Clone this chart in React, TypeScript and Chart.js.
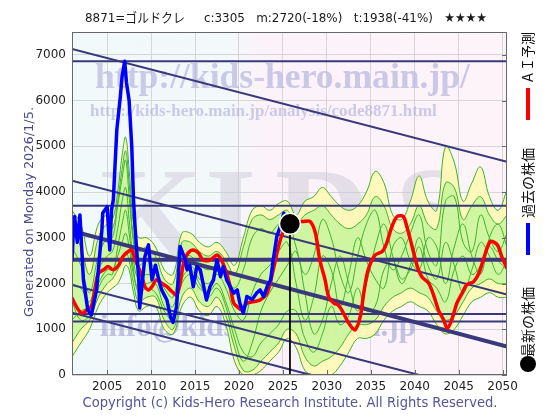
import React, { useEffect, useRef } from "react";
import { Chart, registerables } from "chart.js";

Chart.register(...registerables);

// ---------- text ----------
const titleText = "8871=ゴルドクレ     c:3305   m:2720(-18%)   t:1938(-41%)   ★★★★";
const generatedText = "Generated on Monday 2026/1/5.";
const copyrightText = "Copyright (c) Kids-Hero Research Institute. All Rights Reserved.";
const legendForecast = "ＡＩ予測";
const legendPast = "過去の株価";
const legendLatest = "最新の株価";
const watermarkUrl = "http://kids-hero.main.jp/";
const watermarkPage = "http://kids-hero.main.jp/analysis/code8871.html";
const watermarkMail = "info@kids-hero.main.jp";
const watermarkBig = ["K", "I", "D", "S"];

// ---------- axes ----------
const xTicks = [2005, 2010, 2015, 2020, 2025, 2030, 2035, 2040, 2045, 2050];
const yTicks = [0, 1000, 2000, 3000, 4000, 5000, 6000, 7000];
const xMin = 2001;
const xMax = 2050.5;
const yMax = 7500;

// ---------- past price (blue) ----------
const priceYears = [2001.0, 2001.2, 2001.3, 2001.6, 2001.9, 2002.3, 2002.8, 2003.2, 2003.8, 2004.4, 2004.5, 2005.0, 2005.3, 2005.5, 2005.7, 2006.1, 2006.5, 2006.7, 2007.0, 2007.2, 2007.5, 2007.8, 2008.0, 2008.2, 2008.6, 2008.7, 2009.3, 2009.7, 2010.1, 2010.5, 2010.8, 2011.2, 2011.8, 2012.2, 2012.5, 2012.9, 2013.3, 2013.9, 2014.1, 2014.4, 2014.8, 2015.2, 2015.6, 2016.3, 2016.7, 2017.1, 2017.5, 2017.9, 2018.2, 2018.6, 2019.0, 2019.4, 2019.8, 2020.1, 2020.5, 2020.9, 2021.5, 2022.0, 2022.4, 2022.8, 2023.2, 2023.6, 2023.9, 2024.3, 2024.7, 2025.1, 2025.8];
const priceValues = [2516, 3300, 3464, 2900, 3500, 2080, 1420, 1310, 1860, 3170, 3540, 3680, 2735, 3610, 3830, 5360, 6090, 6530, 6860, 6390, 6000, 5000, 3830, 3170, 2080, 1465, 2590, 2845, 2080, 2400, 2150, 1860, 1640, 1275, 1150, 1495, 2810, 2515, 2300, 2400, 1930, 2370, 2300, 1640, 1930, 2080, 2515, 2150, 2370, 2080, 1930, 1790, 1860, 1570, 1350, 1715, 1650, 1790, 1860, 1715, 1930, 2080, 2515, 3025, 3245, 3540, 3305];

// ---------- AI forecast (red) ----------
const forecastYears = [2001.0, 2001.5, 2002.1, 2002.7, 2003.2, 2003.6, 2004.0, 2004.6, 2005.1, 2005.7, 2006.3, 2006.8, 2007.4, 2007.8, 2008.2, 2008.6, 2008.9, 2009.3, 2009.7, 2010.1, 2010.6, 2011.2, 2011.8, 2012.4, 2012.9, 2013.3, 2013.7, 2014.2, 2014.8, 2015.4, 2015.9, 2016.7, 2017.5, 2018.0, 2018.6, 2019.0, 2019.4, 2019.8, 2020.3, 2020.9, 2021.7, 2022.4, 2023.2, 2023.9, 2024.5, 2025.1, 2025.8, 2027.3, 2028.1, 2028.7, 2029.2, 2029.8, 2030.2, 2030.8, 2031.3, 2031.9, 2032.5, 2033.2, 2033.8, 2034.2, 2034.7, 2035.5, 2036.3, 2036.8, 2037.4, 2038.0, 2038.7, 2039.1, 2039.7, 2040.3, 2040.8, 2041.6, 2042.2, 2042.7, 2043.3, 2043.7, 2044.2, 2044.8, 2045.4, 2045.9, 2046.7, 2047.3, 2047.8, 2048.6, 2049.4, 2049.9, 2050.5];
const forecastValues = [1680, 1495, 1350, 1420, 1495, 1860, 2225, 2300, 2370, 2300, 2400, 2590, 2700, 2735, 2515, 2335, 2190, 1930, 1860, 1930, 2080, 2005, 1930, 1820, 1750, 2005, 2445, 2665, 2735, 2665, 2515, 2515, 2625, 2515, 2225, 1930, 1570, 1495, 1420, 1570, 1605, 1640, 1790, 2300, 2810, 3170, 3330, 3355, 3355, 3100, 2515, 2080, 1715, 1570, 1530, 1350, 1130, 985, 1275, 1790, 2300, 2625, 2700, 2880, 3245, 3465, 3465, 3245, 2810, 2370, 2150, 2005, 1715, 1420, 1200, 1020, 1200, 1570, 1790, 1970, 2040, 2225, 2515, 2920, 2845, 2590, 2335];

// ---------- latest price ----------
const latestYear = 2025.8;
const latestValue = 3305;

// ---------- scenario bands (green / yellow) ----------
const bandYears = [2001, 2002, 2003, 2004, 2005, 2005.6, 2006.2, 2006.7, 2007.1, 2007.5, 2008, 2008.6, 2009.5, 2010.5, 2011.5, 2012.5, 2013.5, 2014.5, 2015.5, 2016.5, 2017.5, 2018.5, 2019.5, 2020.5, 2021.5, 2022.5, 2023.5, 2024.5, 2025.5, 2026.5, 2027.5, 2028.5, 2029.5, 2030.5, 2031.5, 2032.5, 2033.5, 2034.5, 2035.5, 2036.5, 2037.5, 2038.5, 2039.5, 2040.5, 2041.5, 2042.5, 2043.5, 2044.5, 2045.5, 2046.5, 2047.5, 2048.5, 2049.5, 2050.5];
const outerHi = [3600, 3300, 2600, 3300, 3500, 3400, 4000, 4800, 5200, 4500, 3300, 3000, 3000, 2800, 2300, 2200, 3100, 3100, 2900, 2800, 2900, 2700, 2400, 3000, 3600, 3700, 3600, 3750, 3800, 3500, 3800, 3900, 4100, 3900, 3700, 3600, 3700, 4000, 4450, 4200, 3500, 3400, 3800, 4350, 3800, 3600, 5000, 4650, 3800, 4200, 4550, 3900, 3600, 4050];
const outerLo = [400, 700, 1000, 1500, 1800, 1900, 2000, 2200, 2400, 2300, 1800, 1400, 1500, 1500, 1000, 900, 1500, 1700, 1400, 1300, 1500, 1100, 300, 0, 0, 100, 300, 500, 800, 600, 100, 0, 0, 0, 200, 500, 800, 800, 900, 1200, 1400, 1500, 1600, 1500, 1400, 1100, 900, 1000, 1300, 1600, 1700, 1800, 1700, 1700];
const innerHi = [3200, 2800, 2200, 3000, 3300, 3200, 3800, 4500, 4900, 4200, 3000, 2700, 2800, 2600, 2100, 2000, 2900, 2900, 2700, 2600, 2700, 2500, 2200, 2800, 3400, 3500, 3400, 3500, 3600, 3300, 3500, 3600, 3700, 3500, 3300, 3200, 3300, 3500, 3900, 3700, 3200, 3100, 3300, 3700, 3300, 3200, 4200, 4100, 3400, 3700, 3900, 3500, 3300, 3500];
const innerLo = [700, 1000, 1200, 1700, 2000, 2100, 2300, 2500, 2700, 2500, 2000, 1600, 1700, 1700, 1200, 1000, 1700, 1900, 1600, 1500, 1700, 1300, 600, 100, 100, 300, 500, 700, 1000, 900, 400, 200, 300, 400, 600, 900, 1100, 1100, 1200, 1500, 1700, 1800, 1900, 1800, 1700, 1400, 1200, 1300, 1600, 1900, 2000, 2100, 2000, 2000];
const scenA = [2800, 2400, 1800, 2600, 3000, 3000, 3700, 4300, 4700, 3900, 2900, 2400, 2500, 2300, 1900, 1700, 2600, 2600, 2400, 2300, 2400, 2200, 1900, 2300, 3000, 3200, 3100, 3300, 3400, 2800, 2200, 2600, 3400, 3000, 2200, 1800, 2600, 3300, 3600, 2800, 2300, 2600, 3100, 3500, 2700, 2400, 3800, 3900, 2900, 2700, 3500, 3000, 2700, 3100];
const scenB = [1200, 1400, 1500, 2000, 2300, 2300, 2600, 2900, 3100, 2800, 2200, 1900, 2000, 2000, 1500, 1300, 2000, 2200, 1900, 1800, 2000, 1600, 1000, 500, 400, 700, 900, 1100, 1400, 1400, 800, 500, 900, 1500, 1100, 1300, 1900, 1400, 1500, 2300, 2500, 2100, 2300, 2800, 2100, 1900, 1600, 2300, 2600, 2200, 2400, 2800, 2500, 2300];
const scenC = [2000, 1900, 1600, 2300, 2600, 2700, 3200, 3800, 4100, 3400, 2500, 2100, 2200, 2100, 1700, 1500, 2300, 2400, 2100, 2000, 2200, 1900, 1400, 1200, 1800, 2200, 2400, 2700, 2900, 2000, 1200, 1700, 2600, 2300, 1500, 2200, 3000, 2500, 2100, 1900, 2800, 3000, 2500, 2300, 3000, 2800, 2000, 2800, 3300, 2600, 2200, 3000, 3300, 2800];
const scenD = [1600, 1200, 1300, 1900, 2200, 2200, 2800, 3300, 3600, 3100, 2300, 1800, 1900, 1800, 1400, 1200, 2100, 2300, 2000, 1700, 1900, 1500, 800, 300, 700, 1400, 1800, 2100, 2400, 2700, 1800, 900, 1200, 2000, 2600, 2000, 1400, 2000, 2800, 3300, 2600, 2000, 2400, 3000, 2400, 2100, 2900, 2400, 1800, 2300, 2900, 2600, 2200, 2500];

// ---------- support / resistance ----------
const levelValues = [6860, 3700, 2520, 1335, 1170];
const trendStartYears = [2001, 2001, 2001, 2001, 2001];
const trendStartValues = [7130, 4250, 3150, 1970, 1360];
const trendEndYears = [2050.5, 2050.5, 2050.5, 2040.5, 2028.2];
const trendEndValues = [4660, 1760, 620, 0, 0];

// ---------- helpers ----------
const pts = (xs: number[], ys: number[]) => xs.map((x, i) => ({ x, y: ys[i] }));
const NAVY = "#38387a";
const GREEN_LINE = "#3cb42a";

const decorPlugin = {
  id: "decor",
  beforeDraw(chart: any) {
    const { ctx, chartArea: a } = chart;
    ctx.save();
    ctx.fillStyle = "#ffffff";
    ctx.fillRect(0, 0, chart.width, chart.height);
    const g = ctx.createLinearGradient(a.left, 0, a.right, 0);
    g.addColorStop(0, "#f1f9fb");
    g.addColorStop(0.36, "#f3f8fa");
    g.addColorStop(0.44, "#fbf3f9");
    g.addColorStop(1, "#fcf4f9");
    ctx.fillStyle = g;
    ctx.fillRect(a.left, a.top, a.right - a.left, a.bottom - a.top);
    ctx.restore();
  },
  beforeDatasetsDraw(chart: any) {
    const { ctx, chartArea: a } = chart;
    ctx.save();
    ctx.beginPath();
    ctx.rect(a.left, a.top, a.right - a.left, a.bottom - a.top);
    ctx.clip();
    ctx.textAlign = "left";
    ctx.textBaseline = "alphabetic";
    // big letters
    ctx.fillStyle = "rgba(205,202,216,0.5)";
    ctx.font = 'bold 132px "Liberation Serif", serif';
    const bigX = [100, 205, 275, 395];
    watermarkBig.forEach((ch, i) => ctx.fillText(ch, bigX[i], 258));
    // url
    ctx.fillStyle = "rgba(180,180,222,0.68)";
    ctx.font = 'bold 36px "Liberation Serif", serif';
    ctx.fillText(watermarkUrl, 95, 88, 375);
    ctx.font = 'bold 17px "Liberation Serif", serif';
    ctx.fillText(watermarkPage, 90, 116, 380);
    ctx.fillStyle = "rgba(168,168,215,0.68)";
    ctx.font = 'bold 31px "Liberation Serif", serif';
    ctx.fillText(watermarkMail, 100, 336, 367);
    ctx.restore();
  },
  afterDraw(chart: any) {
    const { ctx, chartArea: a, scales } = chart;
    ctx.save();
    // frame
    ctx.strokeStyle = "#666";
    ctx.lineWidth = 1;
    ctx.strokeRect(a.left + 0.5, a.top + 0.5, a.right - a.left - 1, a.bottom - a.top - 1);
    ctx.beginPath();
    yTicks.forEach((v) => {
      const y = Math.round(scales.y.getPixelForValue(v)) + 0.5;
      ctx.moveTo(a.right - 5, y);
      ctx.lineTo(a.right, y);
    });
    xTicks.forEach((v) => {
      const x = Math.round(scales.x.getPixelForValue(v)) + 0.5;
      ctx.moveTo(x, a.bottom);
      ctx.lineTo(x, a.bottom - 5);
    });
    ctx.stroke();

    // title
    ctx.fillStyle = "#1a1a1a";
    ctx.font = '13px "DejaVu Sans", "Noto Sans CJK JP", sans-serif';
    ctx.textAlign = "center";
    ctx.textBaseline = "middle";
    ctx.fillText(titleText, 286, 19, 402);

    // copyright
    ctx.fillStyle = "#55559a";
    ctx.font = '14px "DejaVu Sans", sans-serif';
    ctx.fillText(copyrightText, 290, 403, 415);

    // generated text (vertical)
    ctx.save();
    ctx.translate(30, 212);
    ctx.rotate(-Math.PI / 2);
    ctx.fillStyle = "#4b4b8c";
    ctx.font = '13px "DejaVu Sans", sans-serif';
    ctx.fillText(generatedText, 0, 0, 210);
    ctx.restore();

    // right legend
    const lx = 528;
    const vtext = (t: string, cy: number, w: number) => {
      ctx.save();
      ctx.translate(lx, cy);
      ctx.rotate(-Math.PI / 2);
      ctx.fillStyle = "#111";
      ctx.font = '14px "Noto Sans CJK JP", sans-serif';
      ctx.textAlign = "center";
      ctx.textBaseline = "middle";
      ctx.fillText(t, 0, 0, w);
      ctx.restore();
    };
    vtext(legendForecast, 58, 52);
    ctx.fillStyle = "#ff0000";
    ctx.fillRect(lx - 2, 88, 4, 32);
    vtext(legendPast, 183, 76);
    ctx.fillStyle = "#0000ff";
    ctx.fillRect(lx - 2, 223, 4, 32);
    vtext(legendLatest, 322, 72);
    ctx.fillStyle = "#000";
    ctx.beginPath();
    ctx.arc(lx, 364, 8, 0, Math.PI * 2);
    ctx.fill();
    ctx.restore();
  },
};

export default function App() {
  const ref = useRef<HTMLCanvasElement>(null);
  useEffect(() => {
    if (!ref.current) return;
    Chart.defaults.font.family = '"DejaVu Sans", sans-serif';
    const datasets: any[] = [];
    datasets.push({
      data: [{ x: latestYear, y: latestValue }],
      pointRadius: 10.5,
      pointBackgroundColor: "#000",
      pointBorderColor: "#fff",
      pointBorderWidth: 1.5,
      showLine: false,
      order: -2,
    });
    datasets.push({ data: pts(priceYears, priceValues), borderColor: "#0000ff", borderWidth: 3.5, tension: 0, order: 0 });
    datasets.push({ data: pts(forecastYears, forecastValues), borderColor: "#ff0000", borderWidth: 3.5, tension: 0.3, order: 1 });
    datasets.push({
      data: [{ x: latestYear, y: latestValue }, { x: latestYear, y: 0 }],
      borderColor: "#000",
      borderWidth: 1,
      order: 1.5,
    });
    levelValues.forEach((v, i) => {
      datasets.push({
        data: [{ x: xMin, y: v }, { x: xMax, y: v }],
        borderColor: NAVY,
        borderWidth: i === 2 ? 4 : 2,
        order: 2,
      });
    });
    trendStartYears.forEach((x0, i) => {
      datasets.push({
        data: [{ x: x0, y: trendStartValues[i] }, { x: trendEndYears[i], y: trendEndValues[i] }],
        borderColor: NAVY,
        borderWidth: i === 2 ? 4 : 2,
        order: 2,
      });
    });
    // outer yellow band
    datasets.push({ data: pts(bandYears, outerLo), borderColor: GREEN_LINE, borderWidth: 1, tension: 0.4, fill: false, order: 9 });
    datasets.push({ data: pts(bandYears, outerHi), borderColor: GREEN_LINE, borderWidth: 1, tension: 0.4, fill: "-1", backgroundColor: "rgba(255,250,180,0.9)", order: 9 });
    // inner green band
    datasets.push({ data: pts(bandYears, innerLo), borderColor: GREEN_LINE, borderWidth: 1, tension: 0.4, fill: false, order: 8 });
    datasets.push({ data: pts(bandYears, innerHi), borderColor: GREEN_LINE, borderWidth: 1, tension: 0.4, fill: "-1", backgroundColor: "rgba(180,244,145,0.62)", order: 8 });
    [scenA, scenB, scenC, scenD].forEach((s) => {
      datasets.push({ data: pts(bandYears, s), borderColor: GREEN_LINE, borderWidth: 1, tension: 0.4, fill: false, order: 7 });
    });

    const chart = new Chart(ref.current, {
      type: "line",
      data: { datasets },
      plugins: [decorPlugin],
      options: {
        responsive: false,
        animation: false,
        events: [],
        layout: { padding: { left: 20, right: 53, top: 32, bottom: 25 } },
        elements: { point: { radius: 0 }, line: { borderCapStyle: "round", borderJoinStyle: "round" } },
        plugins: { legend: { display: false }, tooltip: { enabled: false }, title: { display: false } },
        scales: {
          x: {
            type: "linear",
            min: xMin,
            max: xMax,
            afterBuildTicks: (s: any) => {
              s.ticks = xTicks.map((v) => ({ value: v }));
            },
            afterFit: (s: any) => {
              s.height = 20;
            },
            ticks: { color: "#222", font: { size: 12 }, padding: 5, maxRotation: 0, autoSkip: false, callback: (v: any) => String(v) },
            grid: { color: "#d6d6d6", drawTicks: false },
            border: { display: false },
          },
          y: {
            type: "linear",
            min: 0,
            max: yMax,
            afterBuildTicks: (s: any) => {
              s.ticks = yTicks.map((v) => ({ value: v }));
            },
            afterFit: (s: any) => {
              s.width = 52;
            },
            ticks: { color: "#222", font: { size: 12 }, padding: 6, callback: (v: any) => String(v) },
            grid: { color: "#d6d6d6", drawTicks: false },
            border: { display: false },
          },
        },
      } as any,
    });
    return () => chart.destroy();
  }, []);
  return (
    <div style={{ position: "fixed", left: 0, top: 0, width: 560, height: 420, background: "#fff" }}>
      <canvas ref={ref} width={560} height={420} style={{ display: "block", width: 560, height: 420 }} />
    </div>
  );
}
